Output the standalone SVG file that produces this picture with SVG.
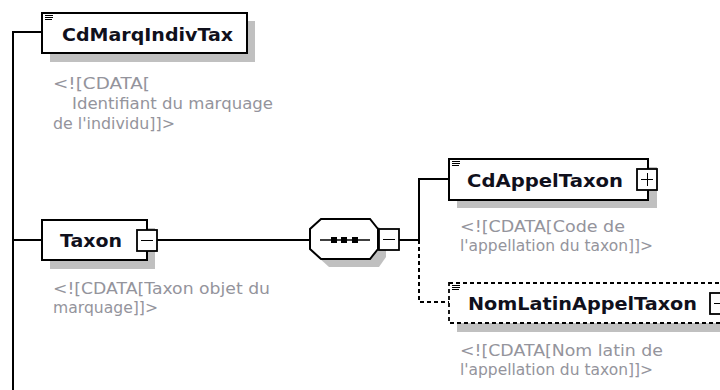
<svg xmlns="http://www.w3.org/2000/svg" width="720" height="390" viewBox="0 0 720 390">
<style>
.box{fill:#fff;stroke:#000;stroke-width:2}
.dbox{fill:#fff;stroke:#000;stroke-width:1.8;stroke-dasharray:4,3}
.sh{fill:#c0c0c0}
.name{font-family:"DejaVu Sans",Verdana,sans-serif;font-weight:bold;font-size:18px;fill:#10101c}
.doc{font-family:"DejaVu Sans",Verdana,sans-serif;font-size:15px;fill:#94949c}
.ln{fill:none;stroke:#000;stroke-width:2}
.dl{fill:none;stroke:#000;stroke-width:2;stroke-dasharray:4,3}
.ic{stroke:#000;stroke-width:1}
.pm{fill:#fff;stroke:#000;stroke-width:1.8}
</style>
<rect width="720" height="390" fill="#fff"/>
<g id="connectors">
<path class="ln" d="M13,390 V32 H42"/>
<path class="ln" d="M13,240 H42"/>
<path class="ln" d="M157,240 H310"/>
<path class="ln" d="M399,240 H419 V179 H449"/>
<path class="dl" d="M419,240 V302 H449"/>
</g>
<g id="CdMarqIndivTax">
<rect class="sh" x="50" y="21" width="205" height="41"/>
<rect class="box" x="42" y="13" width="205" height="40"/>
<path class="ic" d="M45,15.5 H53 M45,17.5 H53 M45,19.5 H52"/>
<text class="name" x="62" y="41" textLength="171" lengthAdjust="spacingAndGlyphs">CdMarqIndivTax</text>
<text class="doc" x="53" y="89" textLength="97" lengthAdjust="spacingAndGlyphs">&lt;![CDATA[</text>
<text class="doc" x="72" y="109" textLength="201" lengthAdjust="spacingAndGlyphs">Identifiant du marquage</text>
<text class="doc" x="53" y="129" textLength="122" lengthAdjust="spacingAndGlyphs">de l'individu]]&gt;</text>
</g>
<g id="Taxon">
<rect class="sh" x="50" y="228" width="105" height="41"/>
<rect class="box" x="42" y="220" width="105" height="40"/>
<text class="name" x="60" y="247" textLength="62" lengthAdjust="spacingAndGlyphs">Taxon</text>
<rect class="pm" x="137" y="230" width="20" height="21"/>
<path class="ic" d="M141,240.5 H153"/>
<text class="doc" x="53" y="294" textLength="217" lengthAdjust="spacingAndGlyphs">&lt;![CDATA[Taxon objet du</text>
<text class="doc" x="53" y="313" textLength="105" lengthAdjust="spacingAndGlyphs">marquage]]&gt;</text>
</g>
<g id="sequence">
<path class="sh" d="M329,227 H379 L386,237 V257 L379,267 H329 L318,257 V237 Z"/>
<path fill="#fff" stroke="#000" stroke-width="2" d="M321,219 H370 L378,229 V249 L370,259 H321 L310,249 V229 Z"/>
<path d="M320,240 H370" stroke="#000" stroke-width="1.5"/>
<rect x="331" y="237" width="6" height="6" fill="#000"/>
<rect x="341" y="237" width="6" height="6" fill="#000"/>
<rect x="352" y="237" width="6" height="6" fill="#000"/>
<rect class="pm" x="379" y="229" width="20" height="21"/>
<path class="ic" d="M383,239.5 H395"/>
</g>
<g id="CdAppelTaxon">
<rect class="sh" x="457" y="167" width="200" height="41"/>
<rect class="box" x="449" y="159" width="199" height="41"/>
<path class="ic" d="M452,161.5 H460 M452,163.5 H460 M452,165.5 H459"/>
<text class="name" x="467" y="187" textLength="156" lengthAdjust="spacingAndGlyphs">CdAppelTaxon</text>
<rect class="pm" x="637" y="169" width="20" height="21"/>
<path class="ic" d="M641,179.5 H653 M647.5,173 V186"/>
<text class="doc" x="460" y="232" textLength="165" lengthAdjust="spacingAndGlyphs">&lt;![CDATA[Code de</text>
<text class="doc" x="460" y="251" textLength="193" lengthAdjust="spacingAndGlyphs">l'appellation du taxon]]&gt;</text>
</g>
<g id="NomLatinAppelTaxon">
<rect class="sh" x="457" y="291" width="270" height="41"/>
<rect class="dbox" x="449" y="283" width="280" height="40"/>
<path class="ic" d="M452,285.5 H460 M452,287.5 H460 M452,289.5 H459"/>
<text class="name" x="468" y="310" textLength="229" lengthAdjust="spacingAndGlyphs">NomLatinAppelTaxon</text>
<rect class="pm" x="710" y="293" width="20" height="21"/>
<path class="ic" d="M714,303.5 H726"/>
<text class="doc" x="460" y="356" textLength="203" lengthAdjust="spacingAndGlyphs">&lt;![CDATA[Nom latin de</text>
<text class="doc" x="460" y="375" textLength="193" lengthAdjust="spacingAndGlyphs">l'appellation du taxon]]&gt;</text>
</g>
</svg>
